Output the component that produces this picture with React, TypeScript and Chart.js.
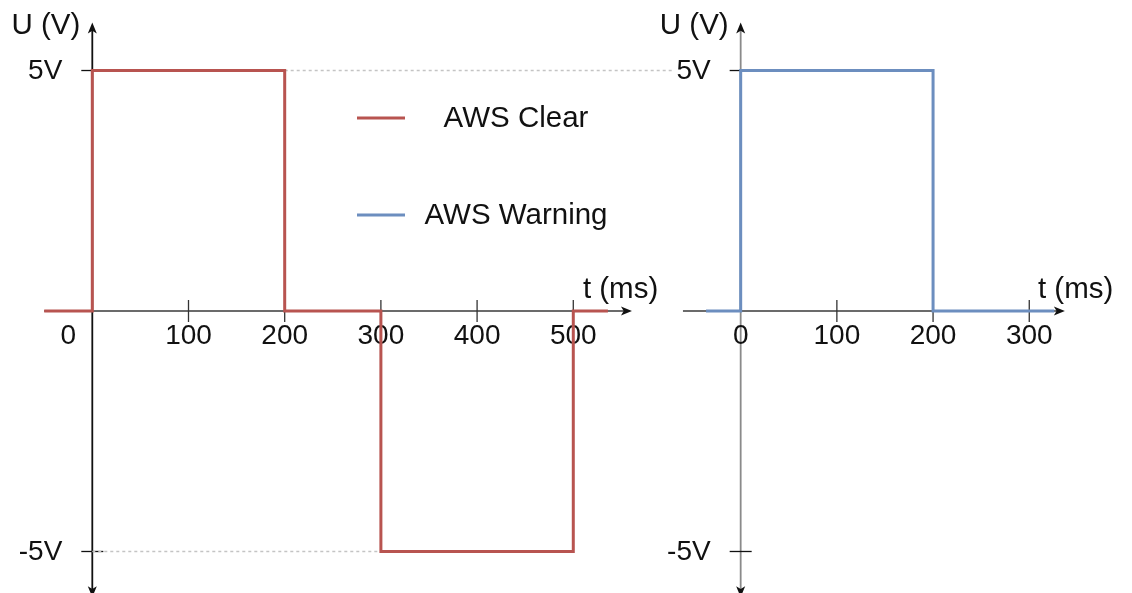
import React, { useEffect, useRef } from "react";
import { Chart, registerables } from "chart.js";

Chart.register(...registerables);

// ---- data ----
const clearTimes = [-50, 0, 0, 200, 200, 300, 300, 500, 500, 536];
const clearVolts = [0, 0, 5, 5, 0, 0, -5, -5, 0, 0];
const warningTimes = [-36, 0, 0, 200, 200, 326];
const warningVolts = [0, 0, 5, 5, 0, 0];
const leftTickValues = [0, 100, 200, 300, 400, 500];
const leftTickLabels = ["0", "100", "200", "300", "400", "500"];
const rightTickValues = [0, 100, 200, 300];
const rightTickLabels = ["0", "100", "200", "300"];
const voltTickValues = [5, -5];
const voltTickLabels = ["5V", "-5V"];
const seriesNames = ["AWS Clear", "AWS Warning"];
const seriesColors = ["#b85450", "#6c8ebf"];
const xAxisTitle = "t (ms)";
const yAxisTitle = "U (V)";
const guideTopTimes = [200, 603];
const guideTopVolts = [5, 5];
const guideBottomTimes = [0, 300];
const guideBottomVolts = [-5, -5];

const FONT = '"Liberation Sans", Arial, Helvetica, sans-serif';

function arrow(ctx: CanvasRenderingContext2D, x: number, y: number, dx: number, dy: number, color: string) {
  const len = 11;
  const half = 4.5;
  const px = -dy, py = dx;
  ctx.save();
  ctx.fillStyle = color;
  ctx.beginPath();
  ctx.moveTo(x, y);
  ctx.lineTo(x - dx * len + px * half, y - dy * len + py * half);
  ctx.lineTo(x - dx * len * 0.75, y - dy * len * 0.75);
  ctx.lineTo(x - dx * len - px * half, y - dy * len - py * half);
  ctx.closePath();
  ctx.fill();
  ctx.restore();
}

const axesPlugin = {
  id: "crossAxes",
  beforeDatasetsDraw(chart: any) {
    const ctx: CanvasRenderingContext2D = chart.ctx;
    const ys = chart.scales.y;
    const y0 = ys.getPixelForValue(0);
    const yTop = ys.getPixelForValue(6.0);
    const yBot = ys.getPixelForValue(-5.95);
    const panels = [
      { xs: chart.scales.x, from: -50, to: 561, xColor: "#3a3a3a", yColor: "#111", ticks: leftTickValues, labels: leftTickLabels, zeroShift: -24, titleAt: 510 },
      { xs: chart.scales.x2, from: -60, to: 337, xColor: "#3a3a3a", yColor: "#8a8a8a", ticks: rightTickValues, labels: rightTickLabels, zeroShift: 0, titleAt: 309 },
    ];
    ctx.save();
    for (const p of panels) {
      const ax = p.xs.getPixelForValue(0);
      const xl = p.xs.getPixelForValue(p.from);
      const xr = p.xs.getPixelForValue(p.to);
      // x axis
      ctx.strokeStyle = p.xColor;
      ctx.lineWidth = 1.6;
      ctx.beginPath();
      ctx.moveTo(xl, y0);
      ctx.lineTo(xr - 7, y0);
      ctx.stroke();
      arrow(ctx, xr, y0, 1, 0, "#111");
      // y axis
      ctx.strokeStyle = p.yColor;
      ctx.lineWidth = 1.8;
      ctx.beginPath();
      ctx.moveTo(ax, yTop + 7);
      ctx.lineTo(ax, yBot - 7);
      ctx.stroke();
      arrow(ctx, ax, yTop, 0, -1, "#111");
      arrow(ctx, ax, yBot, 0, 1, "#111");
      // x ticks
      ctx.strokeStyle = "#333";
      ctx.lineWidth = 1.3;
      ctx.fillStyle = "#111";
      ctx.font = `28px ${FONT}`;
      ctx.textAlign = "center";
      ctx.textBaseline = "middle";
      p.ticks.forEach((v: number, i: number) => {
        const px = p.xs.getPixelForValue(v);
        if (v !== 0) {
          ctx.beginPath();
          ctx.moveTo(px, y0 - 11);
          ctx.lineTo(px, y0 + 11);
          ctx.stroke();
        }
        ctx.fillText(p.labels[i], px + (v === 0 ? p.zeroShift : 0), y0 + 25);
      });
      // y ticks
      ctx.textAlign = "right";
      voltTickValues.forEach((v, i) => {
        const py = ys.getPixelForValue(v);
        ctx.strokeStyle = "#111";
        ctx.beginPath();
        ctx.moveTo(ax - 11, py);
        ctx.lineTo(ax + 11, py);
        ctx.stroke();
        ctx.fillText(voltTickLabels[i], ax - 30, py + 1);
      });
      // titles
      ctx.font = `29.5px ${FONT}`;
      ctx.textAlign = "right";
      ctx.fillText(yAxisTitle, ax - 12, 26);
      ctx.textAlign = "left";
      ctx.fillText(xAxisTitle, p.xs.getPixelForValue(p.titleAt), y0 - 21);
    }
    ctx.restore();
  },
  afterDatasetsDraw(chart: any) {
    const ctx: CanvasRenderingContext2D = chart.ctx;
    const rows = [118, 215];
    ctx.save();
    ctx.font = `29.5px ${FONT}`;
    ctx.textBaseline = "middle";
    ctx.textAlign = "center";
    seriesNames.forEach((name, i) => {
      ctx.strokeStyle = seriesColors[i];
      ctx.lineWidth = 3;
      ctx.beginPath();
      ctx.moveTo(357, rows[i]);
      ctx.lineTo(405, rows[i]);
      ctx.stroke();
      ctx.fillStyle = "#111";
      ctx.fillText(name, 516, rows[i] + 1);
    });
    ctx.restore();
  },
};

const toPoints = (xs: number[], ys: number[]) => xs.map((x, i) => ({ x, y: ys[i] }));

export default function App() {
  const ref = useRef<HTMLCanvasElement | null>(null);
  useEffect(() => {
    document.body.style.margin = "0";
    const canvas = ref.current;
    if (!canvas) return;
    const chart = new Chart(canvas, {
      type: "line",
      data: {
        datasets: [
          {
            label: "guideTop",
            data: toPoints(guideTopTimes, guideTopVolts),
            xAxisID: "x",
            borderColor: "#c4c4c4",
            borderWidth: 1.5,
            borderDash: [3, 3],
            pointRadius: 0,
            order: 3,
          },
          {
            label: "guideBottom",
            data: toPoints(guideBottomTimes, guideBottomVolts),
            xAxisID: "x",
            borderColor: "#c4c4c4",
            borderWidth: 1.5,
            borderDash: [3, 3],
            pointRadius: 0,
            order: 3,
          },
          {
            label: seriesNames[0],
            data: toPoints(clearTimes, clearVolts),
            xAxisID: "x",
            borderColor: seriesColors[0],
            borderWidth: 3,
            pointRadius: 0,
            tension: 0,
            borderJoinStyle: "miter",
            order: 1,
          },
          {
            label: seriesNames[1],
            data: toPoints(warningTimes, warningVolts),
            xAxisID: "x2",
            borderColor: seriesColors[1],
            borderWidth: 3,
            pointRadius: 0,
            tension: 0,
            borderJoinStyle: "miter",
            order: 1,
          },
        ],
      },
      options: {
        animation: false,
        responsive: true,
        maintainAspectRatio: false,
        layout: { padding: 0 },
        events: [],
        plugins: { legend: { display: false }, tooltip: { enabled: false } },
        scales: {
          x: { type: "linear", display: false, min: -95.95, max: 1080.8 },
          x2: { type: "linear", display: false, min: -769.96, max: 406.8 },
          y: { type: "linear", display: false, min: -5.863, max: 6.466 },
        },
      },
      plugins: [axesPlugin],
    } as any);
    return () => chart.destroy();
  }, []);
  return (
    <div style={{ position: "fixed", left: 0, top: 0, width: 1132, height: 593, background: "#fff" }}>
      <canvas ref={ref} style={{ display: "block" }} />
    </div>
  );
}
